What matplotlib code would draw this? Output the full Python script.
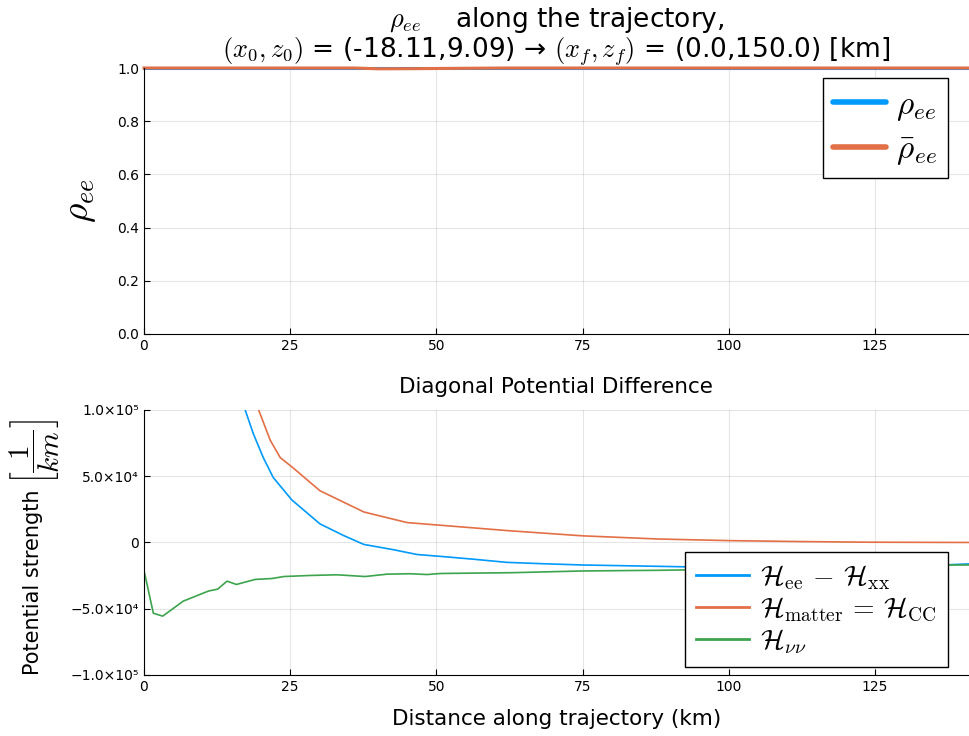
import matplotlib.pyplot as plt

plt.rcParams["mathtext.fontset"] = "cm"
plt.rcParams["font.family"] = "DejaVu Sans"

BLUE = "#009AFA"
RED = "#E26F46"
GREEN = "#3DA44D"

# top panel: survival probabilities along the trajectory
top_x = [0, 36, 40, 46, 55, 62, 141]
rho_ee = [1.0, 1.0, 1.0, 1.0, 1.0, 1.0, 1.0]
rhobar_ee = [1.0, 1.0, 0.997, 0.9975, 0.999, 1.0, 1.0]

# bottom panel: diagonal potential differences
blue_x = [16.0, 17.3, 18.7, 20.4, 22.1, 25.3, 30.1, 34.1, 37.6, 42.7, 46.7, 50.7,
          56, 62, 68, 75, 88, 100, 115, 128, 136.6, 141]
blue_y = [1.15e5, 1.0e5, 8.2e4, 6.4e4, 4.9e4, 3.2e4, 1.4e4, 5.3e3, -1.5e3, -5.5e3,
          -9.1e3, -1.05e4, -1.25e4, -1.5e4, -1.6e4, -1.7e4, -1.8e4, -1.9e4,
          -1.85e4, -1.75e4, -1.7e4, -1.62e4]

red_x = [18.5, 19.6, 21.6, 23.3, 25.3, 30.1, 37.6, 45.0, 50.7, 62, 75, 88, 100,
         112, 124, 141]
red_y = [1.12e5, 1.0e5, 7.7e4, 6.4e4, 5.7e4, 3.9e4, 2.3e4, 1.5e4, 1.3e4, 9.0e3,
         5.0e3, 2.6e3, 1.4e3, 7e2, 2e2, 0]

green_x = [0, 1.6, 3.2, 6.7, 11.0, 12.6, 14.2, 15.8, 19.0, 21.9, 23.9, 28.4, 33.0,
           37.8, 41.6, 45.5, 48.4, 50.7, 63, 75, 88, 100, 115, 128, 136.6, 141]
green_y = [-2.11e4, -5.34e4, -5.56e4, -4.43e4, -3.67e4, -3.52e4, -2.92e4, -3.17e4,
           -2.79e4, -2.72e4, -2.57e4, -2.49e4, -2.44e4, -2.57e4, -2.39e4, -2.36e4,
           -2.42e4, -2.34e4, -2.28e4, -2.15e4, -2.1e4, -2.02e4, -1.95e4, -1.85e4,
           -1.7e4, -1.7e4]

x_ticks = [0, 25, 50, 75, 100, 125]
top_yticks = [0.0, 0.2, 0.4, 0.6, 0.8, 1.0]
bot_yticks = [-1e5, -5e4, 0, 5e4, 1e5]
bot_ylabels = ["\u22121.0\u00d710\u2075", "\u22125.0\u00d710\u2074", "0",
               "5.0\u00d710\u2074", "1.0\u00d710\u2075"]


def style_axes(ax):
    for s in ["top", "right"]:
        ax.spines[s].set_visible(False)
    ax.tick_params(direction="in", length=4, labelsize=10)
    ax.grid(True, color="#000000", alpha=0.1, linewidth=0.8)
    ax.set_axisbelow(True)


fig = plt.figure(figsize=(9.69, 7.36), dpi=100)

ax1 = fig.add_axes([0.1486, 0.5462, 0.851, 0.3614])
ax1.plot(top_x, rho_ee, color=BLUE, lw=2.2, label=r"$\rho_{ee}$", clip_on=False)
ax1.plot(top_x, rhobar_ee, color=RED, lw=2.2, label=r"$\bar{\rho}_{ee}$", clip_on=False)
ax1.set_xlim(0, 141)
ax1.set_ylim(0, 1)
ax1.set_xticks(x_ticks)
ax1.set_yticks(top_yticks)
ax1.set_yticklabels([f"{v:.1f}" for v in top_yticks])
style_axes(ax1)
ax1.set_ylabel(r"$\rho_{ee}$", fontsize=27, labelpad=14)
ax1.set_title(r"$\rho_{ee}$    along the trajectory," + "\n"
              r"$(x_0,z_0)$ = (-18.11,9.09) → $(x_f,z_f)$ = (0.0,150.0) [km]",
              fontsize=19, pad=0, linespacing=1.0)
leg1 = ax1.legend(loc="upper right", fontsize=24, handlelength=1.6,
                  fancybox=False, edgecolor="black", framealpha=1,
                  borderpad=0.3, labelspacing=0.3, handletextpad=0.3,
                  borderaxespad=0, bbox_to_anchor=(0.975, 0.962))
for h in leg1.get_lines():
    h.set_linewidth(4)
    h.set_solid_capstyle("round")

ax2 = fig.add_axes([0.1486, 0.0829, 0.851, 0.3601])
ax2.plot(blue_x, blue_y, color=BLUE, lw=1.2,
         label=r"$\mathcal{H}_{\rm ee}\,-\,\mathcal{H}_{\rm xx}$")
ax2.plot(red_x, red_y, color=RED, lw=1.2,
         label=r"$\mathcal{H}_{\rm matter}\,=\,\mathcal{H}_{\rm CC}$")
ax2.plot(green_x, green_y, color=GREEN, lw=1.2, label=r"$\mathcal{H}_{\nu\nu}$")
ax2.set_xlim(0, 141)
ax2.set_ylim(-1e5, 1e5)
ax2.set_xticks(x_ticks)
ax2.set_yticks(bot_yticks)
ax2.set_yticklabels(bot_ylabels)
style_axes(ax2)
ax2.set_title("Diagonal Potential Difference", fontsize=15.5, pad=12)
ax2.set_xlabel("Distance along trajectory (km)", fontsize=15.5, labelpad=11)
# y label: text part plus a larger bracketed unit above it
fig.text(0.034, 675 / 736 * 0 + (736 - 675) / 736, "Potential strength",
         rotation=90, fontsize=15, ha="center", va="bottom")
fig.text(0.036, (736 - 452) / 736, r"$\left[\dfrac{1}{km}\right]$",
         rotation=90, fontsize=21, ha="center", va="center")
leg2 = ax2.legend(loc="lower right", fontsize=20, handlelength=1.9,
                  fancybox=False, edgecolor="black", framealpha=1,
                  borderpad=0.4, labelspacing=0.12, handletextpad=0.4,
                  borderaxespad=0, bbox_to_anchor=(0.975, 0.03))
for h in leg2.get_lines():
    h.set_linewidth(2)

fig.savefig("out.png", dpi=100)
